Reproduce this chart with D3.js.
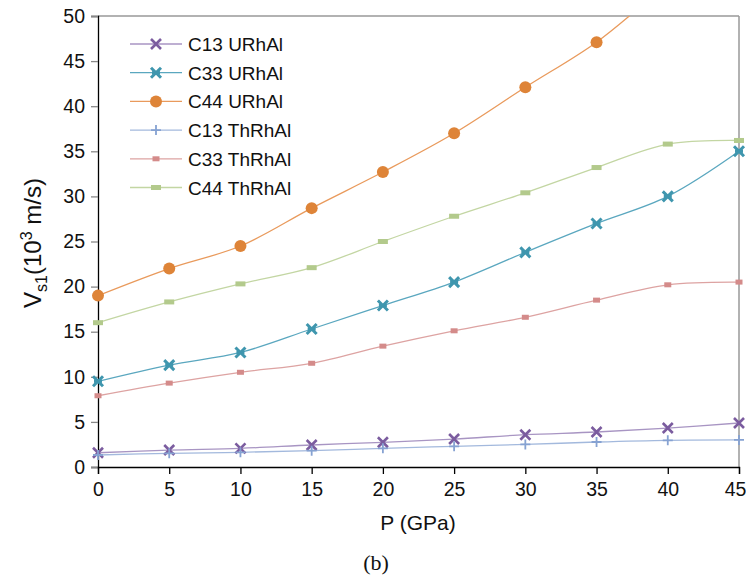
<!DOCTYPE html>
<html>
<head>
<meta charset="utf-8">
<script src="https://cdn.jsdelivr.net/npm/d3@7"></script>
<style>
  body { margin: 0; background: #fff; }
  text { font-family: "Liberation Sans", Arial, sans-serif; fill: #111; }
</style>
</head>
<body>
<div id="chart-area"></div>
<script>
// pressure (GPa)
let pressure = [0, 5, 10, 15, 20, 25, 30, 35, 40, 45];

let c13URhAl  = [1.58, 1.88, 2.07, 2.44, 2.74, 3.1, 3.58, 3.88, 4.32, 4.88];
let c33URhAl  = [9.5, 11.3, 12.7, 15.3, 17.9, 20.5, 23.8, 27.0, 30.0, 35.0];
let c44URhAl  = [19.0, 22.0, 24.5, 28.7, 32.7, 37.0, 42.1, 47.1, 53.5, 59.0];
let c13ThRhAl = [1.33, 1.52, 1.63, 1.81, 2.07, 2.29, 2.5, 2.77, 2.96, 3.0];
let c33ThRhAl = [7.9, 9.3, 10.5, 11.5, 13.4, 15.1, 16.6, 18.5, 20.2, 20.5];
let c44ThRhAl = [16.0, 18.3, 20.3, 22.1, 25.0, 27.8, 30.4, 33.2, 35.8, 36.2];

let yTicks = [0, 5, 10, 15, 20, 25, 30, 35, 40, 45, 50];
let xTicks = [0, 5, 10, 15, 20, 25, 30, 35, 40, 45];

let series = [
    {name: "C13 URhAl",  values: c13URhAl,  color: "#7b5c9f", line: "#a895c3", marker: "x"},
    {name: "C33 URhAl",  values: c33URhAl,  color: "#3f96ae", line: "#5aa7bf", marker: "star"},
    {name: "C44 URhAl",  values: c44URhAl,  color: "#de8438", line: "#e99a5c", marker: "circle"},
    {name: "C13 ThRhAl", values: c13ThRhAl, color: "#86a2d2", line: "#a3b9dd", marker: "plus"},
    {name: "C33 ThRhAl", values: c33ThRhAl, color: "#d48b8a", line: "#dda3a2", marker: "dash"},
    {name: "C44 ThRhAl", values: c44ThRhAl, color: "#b3ca8c", line: "#c3d6a3", marker: "bar"}
];

let svgCanvas = d3.select("#chart-area")
                    .append("svg")
                    .attr("width", 746)
                    .attr("height", 579)

let plotL = 98, plotR = 739, plotT = 16, plotB = 467;

let x = d3.scaleLinear().domain([0, 45]).range([plotL, plotR]);
let y = d3.scaleLinear().domain([0, 50]).range([plotB, plotT]);

svgCanvas.append("clipPath").attr("id", "plotclip")
    .append("rect")
    .attr("x", plotL).attr("y", plotT)
    .attr("width", plotR - plotL).attr("height", plotB - plotT);

// frame (top and right in grey)
svgCanvas.append("line")
    .attr("x1", plotL).attr("x2", plotR).attr("y1", plotT).attr("y2", plotT)
    .attr("stroke", "#999").attr("stroke-width", 1.5)
svgCanvas.append("line")
    .attr("x1", plotR).attr("x2", plotR).attr("y1", plotT).attr("y2", plotB)
    .attr("stroke", "#999").attr("stroke-width", 1.5)

let yAxis = svgCanvas.append("g")
    .attr("transform", "translate(" + plotL + ",0)")
    .call(d3.axisLeft(y).tickValues(yTicks).tickSize(7).tickPadding(6));
let xAxis = svgCanvas.append("g")
    .attr("transform", "translate(0," + plotB + ")")
    .call(d3.axisBottom(x).tickValues(xTicks).tickSize(7).tickPadding(8));

[yAxis, xAxis].forEach(ax => {
    ax.select(".domain").attr("stroke", "#000").attr("stroke-width", 1.3);
    ax.selectAll(".tick line").attr("stroke", "#888").attr("stroke-width", 1.3);
    ax.selectAll(".tick text")
      .style("font-family", "'Liberation Sans', Arial, sans-serif")
      .style("font-size", "19.5px")
      .attr("fill", "#111");
});
xAxis.selectAll(".tick line").attr("stroke", "#000");
// keep the last x label inside the window
xAxis.selectAll(".tick text").filter(d => d === 45).attr("dx", -4);

let lineGen = d3.line()
    .x((d, i) => x(pressure[i]))
    .y(d => y(d))
    .curve(d3.curveCatmullRom.alpha(0.5));

let lines = svgCanvas.append("g").attr("clip-path", "url(#plotclip)");
series.forEach(s => {
    lines.append("path")
        .attr("d", lineGen(s.values))
        .attr("fill", "none")
        .attr("stroke", s.line)
        .attr("stroke-width", 1.3)
});

function drawMarker(g, type, color, cx, cy) {
    if (type === "x") {
        g.append("path")
            .attr("d", "M" + (cx-5) + "," + (cy-5) + "L" + (cx+5) + "," + (cy+5) +
                       "M" + (cx-5) + "," + (cy+5) + "L" + (cx+5) + "," + (cy-5))
            .attr("stroke", color).attr("stroke-width", 2.6)
    } else if (type === "star") {
        g.append("path")
            .attr("d", "M" + (cx-5) + "," + (cy-5) + "L" + (cx+5) + "," + (cy+5) +
                       "M" + (cx-5) + "," + (cy+5) + "L" + (cx+5) + "," + (cy-5) +
                       "M" + (cx-4) + "," + cy + "L" + (cx+4) + "," + cy)
            .attr("stroke", color).attr("stroke-width", 3)
    } else if (type === "circle") {
        g.append("circle").attr("cx", cx).attr("cy", cy).attr("r", 6)
            .attr("fill", color)
    } else if (type === "plus") {
        g.append("path")
            .attr("d", "M" + (cx-5) + "," + cy + "L" + (cx+5) + "," + cy +
                       "M" + cx + "," + (cy-5) + "L" + cx + "," + (cy+5))
            .attr("stroke", color).attr("stroke-width", 1.8)
    } else if (type === "dash") {
        g.append("rect").attr("x", cx-3.5).attr("y", cy-2.5)
            .attr("width", 7).attr("height", 5).attr("fill", color)
    } else if (type === "bar") {
        g.append("rect").attr("x", cx-5).attr("y", cy-2.5)
            .attr("width", 10).attr("height", 5).attr("fill", color)
    }
}

let marks = svgCanvas.append("g");
series.forEach(s => {
    s.values.forEach((v, i) => {
        if (v <= 50) drawMarker(marks, s.marker, s.color, x(pressure[i]), y(v));
    });
});

// legend
let legend = svgCanvas.append("g");
series.forEach((s, i) => {
    let ly = 44 + i * 28.7;
    legend.append("line")
        .attr("x1", 130).attr("x2", 182).attr("y1", ly).attr("y2", ly)
        .attr("stroke", s.line).attr("stroke-width", 1.3)
    drawMarker(legend, s.marker, s.color, 156, ly);
    legend.append("text")
        .attr("x", 188).attr("y", ly + 7)
        .style("font-size", "19px")
        .text(s.name)
});

// axis titles
let yTitle = svgCanvas.append("text")
    .attr("transform", "translate(41,243) rotate(-90)")
    .attr("text-anchor", "middle")
    .style("font-size", "24px");
yTitle.append("tspan").text("V");
yTitle.append("tspan").attr("dy", 6).style("font-size", "16px").text("s1");
yTitle.append("tspan").attr("dy", -6).text("(10");
yTitle.append("tspan").attr("dy", -9).style("font-size", "16px").text("3");
yTitle.append("tspan").attr("dy", 9).text(" m/s)");

svgCanvas.append("text")
    .attr("x", 418).attr("y", 530)
    .attr("text-anchor", "middle")
    .style("font-size", "21px")
    .text("P (GPa)")

svgCanvas.append("text")
    .attr("x", 376).attr("y", 570)
    .attr("text-anchor", "middle")
    .style("font-family", "'Liberation Serif', 'Times New Roman', serif")
    .style("font-size", "22px")
    .text("(b)")
</script>
</body>
</html>
